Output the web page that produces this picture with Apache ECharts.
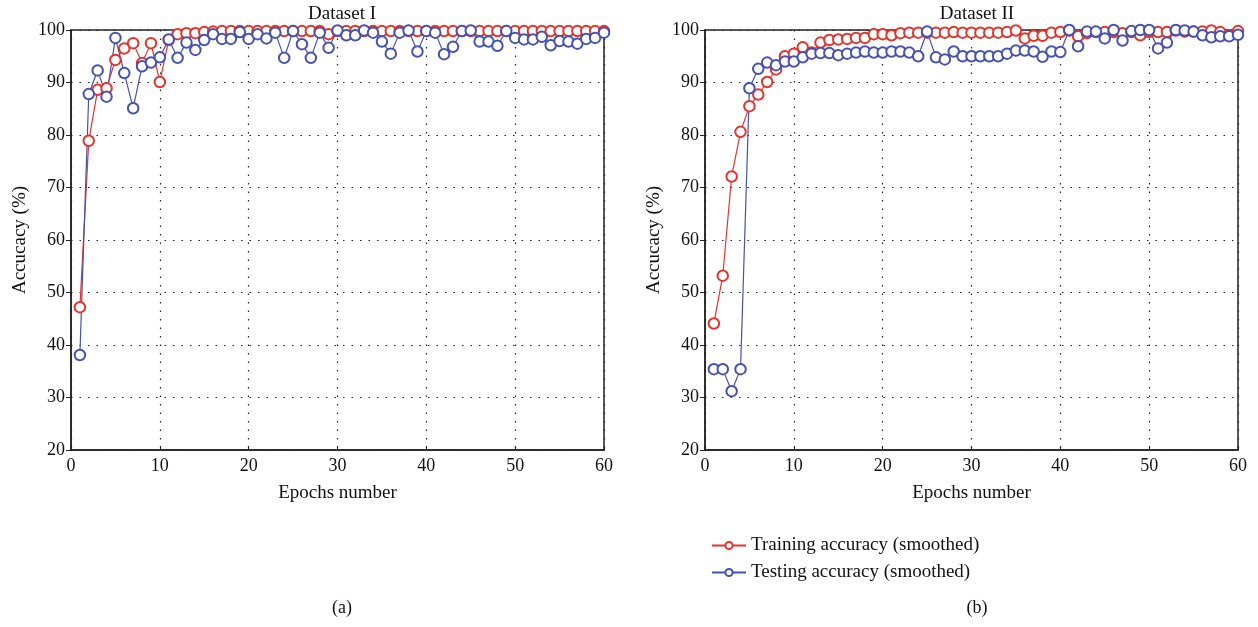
<!DOCTYPE html>
<html>
<head>
<meta charset="utf-8">
<script src="https://cdn.jsdelivr.net/npm/echarts@6/dist/echarts.min.js"></script>
<style>
  html, body { margin: 0; padding: 0; background: #fff; }
  #chart { width: 1258px; height: 627px; }
</style>
</head>
<body>
<div id="chart"></div>
<script>
// epochs 1..60
const epochs = Array.from({ length: 60 }, (_, i) => i + 1);

const trainI = [
  47.2, 78.9, 88.6, 88.9, 94.3, 96.5, 97.5, 93.7, 97.5, 90.1,
  98.1, 99.2, 99.4, 99.4, 99.6, 99.7, 99.8, 99.8, 99.8, 99.8,
  99.8, 99.8, 99.8, 99.8, 99.8, 99.8, 99.8, 99.8, 99.2, 99.8,
  99.8, 99.8, 99.8, 99.8, 99.8, 99.8, 99.8, 99.8, 99.8, 99.8,
  99.8, 99.8, 99.8, 99.8, 99.8, 99.8, 99.8, 99.8, 99.8, 99.8,
  99.8, 99.8, 99.8, 99.8, 99.8, 99.8, 99.8, 99.8, 99.8, 99.8
];
const testI = [
  38.1, 87.8, 92.3, 87.3, 98.5, 91.8, 85.1, 93.1, 93.8, 94.8,
  98.2, 94.7, 97.6, 96.2, 98.1, 99.2, 98.3, 98.3, 99.6, 98.3,
  99.2, 98.4, 99.5, 94.7, 99.8, 97.3, 94.7, 99.5, 96.6, 99.9,
  99.0, 99.0, 99.9, 99.5, 97.8, 95.5, 99.5, 99.9, 95.9, 99.8,
  99.5, 95.4, 96.8, 99.8, 99.9, 97.8, 97.8, 97.0, 99.8, 98.5,
  98.2, 98.2, 98.7, 97.1, 97.9, 97.8, 97.4, 98.3, 98.5, 99.5
];
const trainII = [
  44.1, 53.2, 72.1, 80.6, 85.5, 87.7, 90.1, 92.5, 95.0, 95.5,
  96.7, 95.7, 97.6, 98.1, 98.2, 98.3, 98.5, 98.5, 99.2, 99.2,
  99.0, 99.4, 99.5, 99.5, 99.5, 99.5, 99.5, 99.6, 99.5, 99.5,
  99.5, 99.5, 99.5, 99.6, 99.9, 98.4, 98.9, 98.9, 99.5, 99.6,
  99.9, 98.8, 99.4, 99.6, 99.6, 99.6, 99.4, 99.6, 99.0, 99.6,
  99.6, 99.6, 99.9, 99.7, 99.7, 99.7, 99.9, 99.6, 99.0, 99.8
];
const testII = [
  35.4, 35.4, 31.2, 35.4, 88.9, 92.6, 93.8, 93.3, 94.0, 94.0,
  94.8, 95.5, 95.6, 95.6, 95.2, 95.5, 95.7, 95.9, 95.7, 95.7,
  95.9, 95.9, 95.7, 95.0, 99.7, 94.8, 94.4, 95.9, 95.0, 95.0,
  95.0, 95.0, 95.0, 95.5, 96.1, 96.1, 95.9, 94.9, 95.9, 95.8,
  100.0, 96.9, 99.7, 99.7, 98.4, 100.0, 98.0, 99.8, 100.0, 100.0,
  96.5, 97.6, 100.0, 99.9, 99.7, 99.0, 98.6, 98.8, 98.8, 99.1
];

const panelTitles = ['Dataset I', 'Dataset II'];
const captions = ['(a)', '(b)'];
const seriesNames = ['Training accuracy (smoothed)', 'Testing accuracy (smoothed)'];

const FONT = '"Liberation Serif", "DejaVu Serif", serif';
const RED = '#e5322b';
const BLUE = '#4651b0';

const pairs = (vals) => epochs.map((e, i) => [e, vals[i]]);

const grids = [
  { left: 71, right: 654, top: 30, bottom: 177 },
  { left: 705, right: 20, top: 30, bottom: 177 }
];

const dotted = { show: true, lineStyle: { color: '#222', type: [1.5, 7], width: 1.2 } };

function xAxis(idx) {
  return {
    type: 'value', gridIndex: idx, min: 0, max: 60, interval: 10,
    name: 'Epochs number', nameLocation: 'middle', nameGap: 34,
    nameTextStyle: { fontFamily: FONT, fontSize: 19, color: '#111' },
    axisLine: { lineStyle: { color: '#222', width: 1.5 } },
    axisTick: { inside: true, length: 4, lineStyle: { color: '#222' } },
    axisLabel: { fontFamily: FONT, fontSize: 18, color: '#111', margin: 7 },
    splitLine: dotted
  };
}
function yAxis(idx) {
  return {
    type: 'value', gridIndex: idx, min: 20, max: 100, interval: 10,
    name: 'Accucacy (%)', nameLocation: 'middle', nameGap: 41, nameRotate: 90,
    nameTextStyle: { fontFamily: FONT, fontSize: 19, color: '#111' },
    axisLine: { show: true, lineStyle: { color: '#222', width: 1.5 } },
    axisTick: { show: true, length: 5, lineStyle: { color: '#222' } },
    axisLabel: { fontFamily: FONT, fontSize: 18, color: '#111', margin: 6 },
    splitLine: dotted
  };
}

function lineSeries(name, color, vals, idx) {
  return {
    name: name, type: 'line', xAxisIndex: idx, yAxisIndex: idx,
    data: pairs(vals),
    symbol: 'emptyCircle', symbolSize: 10.5,
    lineStyle: { color: color, width: 1.2 },
    itemStyle: { color: color, borderWidth: 1.1 },
    clip: false, animation: false
  };
}

const chart = echarts.init(document.getElementById('chart'));
chart.setOption({
  backgroundColor: '#fff',
  title: [
    { text: panelTitles[0], left: 337, top: 0, textAlign: 'center',
      textStyle: { fontFamily: FONT, fontSize: 19, fontWeight: 'normal', color: '#111' } },
    { text: panelTitles[1], left: 972, top: 0, textAlign: 'center',
      textStyle: { fontFamily: FONT, fontSize: 19, fontWeight: 'normal', color: '#111' } },
    { text: captions[0], left: 337, top: 594, textAlign: 'center',
      textStyle: { fontFamily: FONT, fontSize: 18, fontWeight: 'normal', color: '#111' } },
    { text: captions[1], left: 972, top: 594, textAlign: 'center',
      textStyle: { fontFamily: FONT, fontSize: 18, fontWeight: 'normal', color: '#111' } }
  ],
  grid: grids.map(g => Object.assign({ show: true, borderColor: '#222', borderWidth: 1.5 }, g)),
  xAxis: [xAxis(0), xAxis(1)],
  yAxis: [yAxis(0), yAxis(1)],
  legend: {
    data: seriesNames, orient: 'vertical', left: 706, top: 531,
    itemWidth: 34, itemHeight: 9, itemGap: 8,
    textStyle: { fontFamily: FONT, fontSize: 19, color: '#111' }
  },
  series: [
    lineSeries(seriesNames[0], RED, trainI, 0),
    lineSeries(seriesNames[1], BLUE, testI, 0),
    lineSeries(seriesNames[0], RED, trainII, 1),
    lineSeries(seriesNames[1], BLUE, testII, 1)
  ]
});
</script>
</body>
</html>
